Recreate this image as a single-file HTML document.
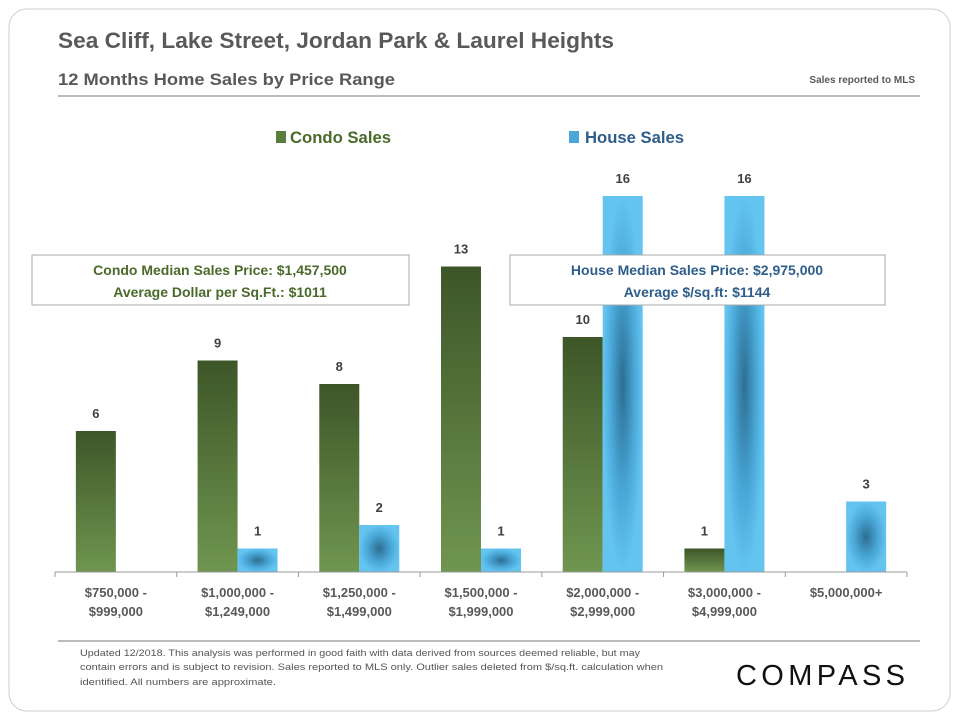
<!DOCTYPE html>
<html><head><meta charset="utf-8"><style>
body{margin:0;background:#fff;width:960px;height:720px;overflow:hidden;font-family:"Liberation Sans",sans-serif}
</style></head><body>
<svg width="960" height="720" xmlns="http://www.w3.org/2000/svg">
<defs>
<linearGradient id="cg" x1="0" y1="0" x2="0" y2="1"><stop offset="0" stop-color="#3d5628"/><stop offset="1" stop-color="#6f9650"/></linearGradient>
<radialGradient id="hg" cx="0.5" cy="0.5" r="0.5" fx="0.5" fy="0.5" gradientUnits="objectBoundingBox"><stop offset="0" stop-color="#2c6e92"/><stop offset="0.6" stop-color="#4aa8d8"/><stop offset="1" stop-color="#64c4f0"/></radialGradient>
</defs>
<rect x="9" y="9" width="941" height="702" rx="18" fill="#fff" stroke="#cfcfcf"/>
<text x="58" y="48" font-size="22" font-weight="bold" fill="#595959" textLength="556" lengthAdjust="spacingAndGlyphs">Sea Cliff, Lake Street, Jordan Park &amp; Laurel Heights</text>
<text x="58" y="85" font-size="17" font-weight="bold" fill="#595959" textLength="337" lengthAdjust="spacingAndGlyphs">12 Months  Home Sales by Price Range</text>
<text x="915" y="83" font-size="10" font-weight="bold" fill="#595959" text-anchor="end">Sales reported to MLS</text>
<line x1="58" y1="96" x2="920" y2="96" stroke="#777"/>
<rect x="276" y="131" width="10" height="12" fill="#5a7d3c"/>
<text x="290" y="143" font-size="17" font-weight="bold" fill="#4a6a2a" textLength="101" lengthAdjust="spacingAndGlyphs">Condo Sales</text>
<rect x="569" y="131" width="10" height="12" fill="#4aa8d8"/>
<text x="585" y="143" font-size="17" font-weight="bold" fill="#2e5d8a" textLength="99" lengthAdjust="spacingAndGlyphs">House Sales</text>
<g id="plot"></g>
<rect x="32" y="255" width="377" height="50" fill="#fff" stroke="#aaa"/>
<text x="220" y="275" font-size="14" font-weight="bold" fill="#4a6a2a" text-anchor="middle">Condo Median Sales Price: $1,457,500</text>
<text x="220" y="297" font-size="14" font-weight="bold" fill="#4a6a2a" text-anchor="middle">Average Dollar per Sq.Ft.: $1011</text>
<rect x="510" y="255" width="375" height="50" fill="#fff" stroke="#aaa"/>
<text x="697" y="275" font-size="14" font-weight="bold" fill="#2e5d8a" text-anchor="middle">House Median Sales Price: $2,975,000</text>
<text x="697" y="297" font-size="14" font-weight="bold" fill="#2e5d8a" text-anchor="middle">Average $/sq.ft: $1144</text>
<line x1="58" y1="641" x2="920" y2="641" stroke="#777"/>
<g font-size="9.5" fill="#555">
<text x="80" y="656" textLength="560" lengthAdjust="spacingAndGlyphs">Updated 12/2018. This analysis was performed in good faith with data derived from sources deemed reliable, but may</text>
<text x="80" y="670" textLength="583" lengthAdjust="spacingAndGlyphs">contain errors and is subject to revision. Sales reported to MLS only. Outlier sales deleted from $/sq.ft. calculation when</text>
<text x="80" y="685" textLength="196" lengthAdjust="spacingAndGlyphs">identified. All numbers are approximate.</text>
</g>
<text x="908" y="685" font-size="29" fill="#111" text-anchor="end" letter-spacing="3" textLength="172">COMPASS</text>
</svg>
<script>
const categories1=["$750,000 -","$1,000,000 -","$1,250,000 -","$1,500,000 -","$2,000,000 -","$3,000,000 -","$5,000,000+"];
const categories2=["$999,000","$1,249,000","$1,499,000","$1,999,000","$2,999,000","$4,999,000",""];
const condoSales=[6,9,8,13,10,1,0];
const houseSales=[0,1,2,1,16,16,3];
const NS="http://www.w3.org/2000/svg";
const g=document.getElementById('plot');
const x0=55,x1=907,base=572,unit=23.5;
const bw=(x1-x0)/categories1.length;
const xc=i=>x0+bw*(i+0.5);
const y=v=>base-v*unit;
function mk(t,a){const e=document.createElementNS(NS,t);for(const k in a)e.setAttribute(k,a[k]);g.appendChild(e);return e;}
function txt(xx,yy,s,sz,fill){const e=mk('text',{x:xx,y:yy,'font-size':sz,'font-weight':'bold',fill:fill,'text-anchor':'middle'});e.textContent=s;return e;}
categories1.forEach((c,i)=>{
  const cx=xc(i);
  if(condoSales[i]>0){
    const r=mk('rect',{x:cx-40,y:y(condoSales[i]),width:40,height:condoSales[i]*unit,fill:'url(#cg)'});
    
    
    const t=txt(cx-20,y(condoSales[i])-13,String(condoSales[i]),13,'#404040');
    
    
  }
  if(houseSales[i]>0){
    const r=mk('rect',{x:cx,y:y(houseSales[i]),width:40,height:houseSales[i]*unit,fill:'url(#hg)'});
    
    
    const t=txt(cx+20,y(houseSales[i])-13,String(houseSales[i]),13,'#404040');
    
    
  }
  const l1=txt(cx,597,c,13,'#595959');
  
  
  const l2=txt(cx,616,categories2[i],13,'#595959');
  
  
});
const ax=mk('line',{x1:x0,y1:base,x2:x1,y2:base,stroke:'#999'});


for(let i=0;i<=categories1.length;i++){
  const tk=mk('line',{x1:x0+bw*i,y1:base,x2:x0+bw*i,y2:base+5,stroke:'#999'});
  
  
}
</script>
</body></html>
